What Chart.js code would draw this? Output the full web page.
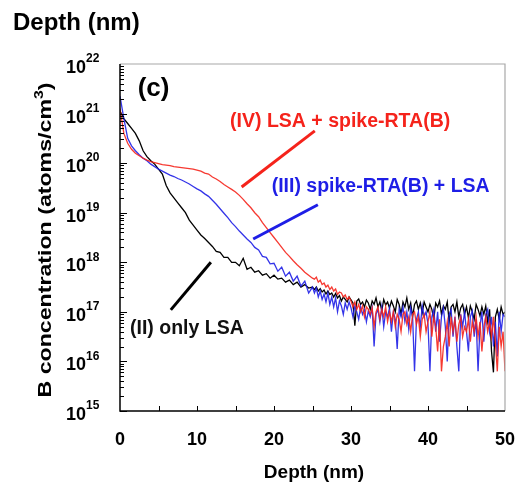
<!DOCTYPE html>
<html>
<head>
<meta charset="utf-8">
<script src="https://cdn.jsdelivr.net/npm/chart.js@4"></script>
<style>
  html, body { margin: 0; padding: 0; background: #fff; }
  canvas { display: block; }
</style>
</head>
<body>
<canvas id="chart" width="529" height="491" style="width:529px;height:491px;"></canvas>
<script>
// Depth grid (nm): 0.5 nm steps to 25 nm, then 0.25 nm through the noisy tail
const depth = [
  0, 0.5, 1, 1.5, 2, 2.5, 3, 3.5, 4, 4.5, 5, 5.5, 6, 6.5, 7, 7.5, 8, 8.5, 9, 9.5,
  10, 10.5, 11, 11.5, 12, 12.5, 13, 13.5, 14, 14.5, 15, 15.5, 16, 16.5, 17, 17.5, 18, 18.5, 19, 19.5,
  20, 20.5, 21, 21.5, 22, 22.5, 23, 23.5, 24, 24.5, 25,
  25.25, 25.5, 25.75, 26, 26.25, 26.5, 26.75, 27, 27.25, 27.5, 27.75, 28, 28.25, 28.5, 28.75, 29, 29.25, 29.5, 29.75, 30,
  30.25, 30.5, 30.75, 31, 31.25, 31.5, 31.75, 32, 32.25, 32.5, 32.75, 33, 33.25, 33.5, 33.75, 34, 34.25, 34.5, 34.75, 35,
  35.25, 35.5, 35.75, 36, 36.25, 36.5, 36.75, 37, 37.25, 37.5, 37.75, 38, 38.25, 38.5, 38.75, 39, 39.25, 39.5, 39.75, 40,
  40.25, 40.5, 40.75, 41, 41.25, 41.5, 41.75, 42, 42.25, 42.5, 42.75, 43, 43.25, 43.5, 43.75, 44, 44.25, 44.5, 44.75, 45,
  45.25, 45.5, 45.75, 46, 46.25, 46.5, 46.75, 47, 47.25, 47.5, 47.75, 48, 48.25, 48.5, 48.75, 49, 49.25, 49.5, 49.75, 50
];

// log10 of B concentration (atoms/cm3)
const onlyLsaLog = [
  21.05, 20.9, 20.8, 20.7, 20.6, 20.45, 20.25, 20.13, 20.05, 19.98, 19.88, 19.78, 19.55, 19.4, 19.3, 19.2, 19.1, 19.0, 18.85, 18.75,
  18.65, 18.55, 18.48, 18.4, 18.32, 18.22, 18.2, 18.1, 18.1, 18.0, 18.0, 17.93, 18.08, 17.86, 17.9, 17.8, 17.83, 17.74, 17.77, 17.68,
  17.74, 17.66, 17.68, 17.6, 17.64, 17.55, 17.6, 17.5, 17.55, 17.48, 17.5,
  17.45, 17.5, 17.42, 17.47, 17.4, 17.44, 17.36, 17.42, 17.35, 17.38, 17.3, 17.37, 17.28, 17.33, 17.22, 17.3, 17.25, 17.2, 17.3, 17.24,
  17.18, 16.72, 17.22, 17.26, 17.15, 17.2, 17.1, 17.24, 17.18, 17.05, 17.22, 17.15, 17.28, 17.1, 17.2, 17.02, 17.25, 17.14, 17.2, 17.08,
  17.22, 17.12, 17.0, 17.25, 17.15, 16.95, 17.2, 17.1, 17.28, 17.05, 17.18, 16.9, 17.15, 17.22, 17.05, 17.18, 16.98, 17.2, 17.1, 17.0,
  17.15, 17.05, 16.85, 17.18, 17.1, 17.22, 16.95, 17.12, 17.05, 17.2, 16.8, 17.1, 17.15, 17.0, 17.2, 16.9, 17.08, 17.15, 16.95, 17.1,
  16.88, 17.12, 17.0, 16.85, 17.15, 17.05, 16.92, 17.1, 16.95, 17.12, 16.8, 17.05, 16.2, 15.78, 16.9, 17.05, 16.85, 17.1, 16.95, 17.0
];

const rtaThenLsaLog = [
  21.35, 20.9, 20.5, 20.35, 20.25, 20.17, 20.1, 20.05, 19.98, 19.93, 19.88, 19.84, 19.8, 19.76, 19.73, 19.69, 19.66, 19.62, 19.58, 19.53,
  19.48, 19.44, 19.38, 19.33, 19.25, 19.17, 19.08, 18.99, 18.9, 18.8, 18.72, 18.63, 18.55, 18.47, 18.4, 18.3, 18.25, 18.12, 18.1, 17.97,
  17.98, 17.82, 17.9, 17.72, 17.8, 17.62, 17.72, 17.52, 17.62, 17.38, 17.5,
  17.38, 17.48, 17.3, 17.42, 17.25, 17.36, 17.2, 17.38, 17.15, 17.3, 17.1, 17.28, 17.0, 17.22, 17.12, 16.95, 17.18, 17.05, 17.2, 17.08,
  16.9, 17.12, 17.0, 16.85, 17.1, 16.95, 17.05, 16.8, 17.02, 16.9, 17.08, 16.3, 16.95, 17.05, 16.8, 17.1, 16.7, 17.0, 16.9, 17.08,
  16.6, 17.0, 16.85, 16.25, 17.05, 16.9, 17.1, 16.8, 17.0, 16.65, 17.08, 16.9, 15.8, 16.85, 17.0, 16.7, 17.12, 16.9, 17.0, 16.75,
  15.8, 16.9, 17.05, 16.6, 17.0, 16.4, 16.9, 17.08, 16.7, 16.0, 16.95, 17.05, 16.5, 16.9, 16.3, 15.8, 16.95, 16.7, 17.0, 16.6,
  16.2, 16.9, 17.02, 16.5, 16.85, 15.8, 16.7, 17.0, 16.4, 16.95, 17.05, 16.6, 16.9, 16.3, 16.8, 16.1, 17.0, 16.6, 16.95, 16.9
];

const lsaThenRtaLog = [
  21.1, 20.6, 20.4, 20.28, 20.2, 20.15, 20.1, 20.06, 20.03, 20.01, 19.99, 19.97, 19.96, 19.95, 19.93, 19.92, 19.91, 19.9, 19.89, 19.88,
  19.86, 19.84, 19.8, 19.78, 19.72, 19.68, 19.63, 19.57, 19.52, 19.47, 19.42, 19.35, 19.27, 19.18, 19.1, 19.0, 18.92, 18.8, 18.7, 18.6,
  18.5, 18.4, 18.3, 18.2, 18.12, 18.03, 17.95, 17.88, 17.8, 17.74, 17.68,
  17.66, 17.7, 17.6, 17.64, 17.55, 17.58, 17.5, 17.54, 17.45, 17.5, 17.42, 17.46, 17.35, 17.4, 17.38, 17.3, 17.34, 17.25, 17.3, 17.22,
  17.1, 17.2, 17.05, 17.15, 17.0, 17.12, 16.9, 17.1, 17.05, 16.95, 17.08, 16.7, 17.0, 17.1, 16.85, 17.05, 16.9, 17.1, 16.8, 17.0,
  16.8, 17.0, 16.7, 16.95, 16.85, 16.6, 16.95, 17.0, 16.75, 16.9, 16.6, 16.95, 17.0, 16.75, 16.9, 16.5, 16.85, 16.95, 16.6, 16.8,
  17.0, 16.5, 16.9, 16.7, 16.2, 16.85, 15.8, 16.3, 16.5, 16.8, 16.3, 16.9, 16.6, 16.85, 16.4, 16.75, 16.9, 16.5, 16.7, 16.6,
  16.85, 16.4, 16.8, 16.6, 16.9, 16.5, 16.8, 16.2, 16.7, 16.9, 16.6, 16.8, 16.5, 16.9, 16.4, 15.8, 16.7, 16.3, 16.6, 15.8
];

// Callout leader lines, [depth, log10 conc] end points
const redLeader = [[15.8, 19.52], [25.3, 20.65]];
const blueLeader = [[17.3, 18.47], [25.7, 19.16]];
const blackLeader = [[6.6, 17.04], [11.8, 18.0]];

const xTicks = [0, 10, 20, 30, 40, 50];
const decades = [15, 16, 17, 18, 19, 20, 21, 22];

const FONT = '"Liberation Sans", Arial, sans-serif';
const RED = '#f5231b';
const BLUE = '#1e1ee6';

function toPoints(logs) {
    return depth.map((d, i) => ({ x: d, y: Math.pow(10, logs[i]) }));
}
function leaderPoints(seg) {
    return seg.map(p => ({ x: p[0], y: Math.pow(10, p[1]) }));
}

// Frame, ticks, tick labels and text notes
const decorPlugin = {
    id: 'decor',
    afterDraw(chart) {
        const ctx = chart.ctx;
        const a = chart.chartArea;
        const xs = chart.scales.x;
        const ys = chart.scales.y;
        ctx.save();

        // light box on top / right
        ctx.strokeStyle = '#a8a8a8';
        ctx.lineWidth = 1.2;
        ctx.beginPath();
        ctx.moveTo(a.left, a.top);
        ctx.lineTo(a.right, a.top);
        ctx.lineTo(a.right, a.bottom);
        ctx.stroke();

        // black axes
        ctx.strokeStyle = '#000';
        ctx.lineWidth = 1.5;
        ctx.beginPath();
        ctx.moveTo(a.left, a.top);
        ctx.lineTo(a.left, a.bottom);
        ctx.lineTo(a.right, a.bottom);
        ctx.stroke();

        // x ticks every 5 nm, inside
        ctx.lineWidth = 1;
        ctx.beginPath();
        for (let v = 5; v < 50; v += 5) {
            const px = Math.round(xs.getPixelForValue(v)) + 0.5;
            ctx.moveTo(px, a.bottom);
            ctx.lineTo(px, a.bottom - 5);
        }
        // y log ticks, inside
        for (let k = 15; k < 22; k++) {
            for (let m = 1; m <= 9; m++) {
                const py = Math.round(ys.getPixelForValue(m * Math.pow(10, k))) + 0.5;
                ctx.moveTo(a.left, py);
                ctx.lineTo(a.left + (m === 1 ? 7 : 4), py);
            }
        }
        ctx.stroke();

        // x tick labels
        ctx.fillStyle = '#000';
        ctx.font = 'bold 18px ' + FONT;
        ctx.textAlign = 'center';
        ctx.textBaseline = 'middle';
        xTicks.forEach(v => ctx.fillText(String(v), xs.getPixelForValue(v), a.bottom + 29));

        // y tick labels 10^k
        decades.forEach(k => {
            const py = ys.getPixelForValue(Math.pow(10, k));
            ctx.font = 'bold 18px ' + FONT;
            ctx.textAlign = 'right';
            ctx.fillText('10', 86, py + 4);
            ctx.font = 'bold 12px ' + FONT;
            ctx.textAlign = 'left';
            ctx.fillText(String(k), 86, py - 5);
        });

        // axis titles
        ctx.font = 'bold 19px ' + FONT;
        ctx.textAlign = 'center';
        ctx.fillText('Depth (nm)', 314, 473);
        ctx.font = 'bold 24px ' + FONT;
        ctx.textAlign = 'left';
        ctx.fillText('Depth (nm)', 13, 23);

        // rotated y title, stretched to the length seen in the figure
        ctx.save();
        ctx.translate(46, 240);
        ctx.rotate(-Math.PI / 2);
        const main = 'B concentration (atoms/cm';
        ctx.font = 'bold 19px ' + FONT;
        const wMain = ctx.measureText(main).width;
        const wEnd = ctx.measureText(')').width;
        ctx.font = 'bold 13px ' + FONT;
        const wSup = ctx.measureText('3').width;
        const total = wMain + wSup + wEnd;
        ctx.scale(315 / total, 1);
        ctx.textAlign = 'left';
        const x0 = -total / 2;
        ctx.font = 'bold 19px ' + FONT;
        ctx.fillText(main, x0, 0);
        ctx.fillText(')', x0 + wMain + wSup, 0);
        ctx.font = 'bold 13px ' + FONT;
        ctx.fillText('3', x0 + wMain, -7);
        ctx.restore();

        // notes in data coordinates
        const note = (text, d, lg, color, size) => {
            ctx.font = 'bold ' + size + 'px ' + FONT;
            ctx.fillStyle = color;
            ctx.textAlign = 'left';
            ctx.textBaseline = 'middle';
            ctx.fillText(text, xs.getPixelForValue(d), ys.getPixelForValue(Math.pow(10, lg)));
        };
        note('(c)', 2.3, 21.5, '#000', 26);
        note('(IV) LSA + spike-RTA(B)', 14.3, 20.83, RED, 19.5);
        note('(III) spike-RTA(B) + LSA', 19.7, 19.52, BLUE, 19.5);
        note('(II) only LSA', 1.3, 16.67, '#111', 19.5);

        ctx.restore();
    }
};

const profileStyle = { borderWidth: 1.3, pointRadius: 0, fill: false, tension: 0 };
const leaderStyle = { borderWidth: 3, pointRadius: 0, fill: false };

new Chart(document.getElementById('chart'), {
    type: 'line',
    data: {
        datasets: [
            Object.assign({ label: '(IV) LSA + spike-RTA(B)', data: toPoints(lsaThenRtaLog), borderColor: 'rgba(245,35,27,0.9)', order: 1 }, profileStyle),
            Object.assign({ label: '(III) spike-RTA(B) + LSA', data: toPoints(rtaThenLsaLog), borderColor: 'rgba(30,30,230,0.9)', order: 2 }, profileStyle),
            Object.assign({ label: '(II) only LSA', data: toPoints(onlyLsaLog), borderColor: '#000', order: 3 }, profileStyle),
            Object.assign({ label: 'redLeader', data: leaderPoints(redLeader), borderColor: RED, order: 0 }, leaderStyle),
            Object.assign({ label: 'blueLeader', data: leaderPoints(blueLeader), borderColor: BLUE, order: 0 }, leaderStyle),
            Object.assign({ label: 'blackLeader', data: leaderPoints(blackLeader), borderColor: '#000', order: 0 }, leaderStyle)
        ]
    },
    options: {
        responsive: false,
        animation: false,
        layout: { padding: { left: 120, top: 64, right: 24, bottom: 80 } },
        plugins: { legend: { display: false }, tooltip: { enabled: false } },
        scales: {
            x: {
                type: 'linear', min: 0, max: 50,
                ticks: { display: false },
                grid: { display: false, drawTicks: false },
                border: { display: false }
            },
            y: {
                type: 'logarithmic', min: 1e15, max: 1e22,
                ticks: { display: false },
                grid: { display: false, drawTicks: false },
                border: { display: false }
            }
        }
    },
    plugins: [decorPlugin]
});
</script>
</body>
</html>
